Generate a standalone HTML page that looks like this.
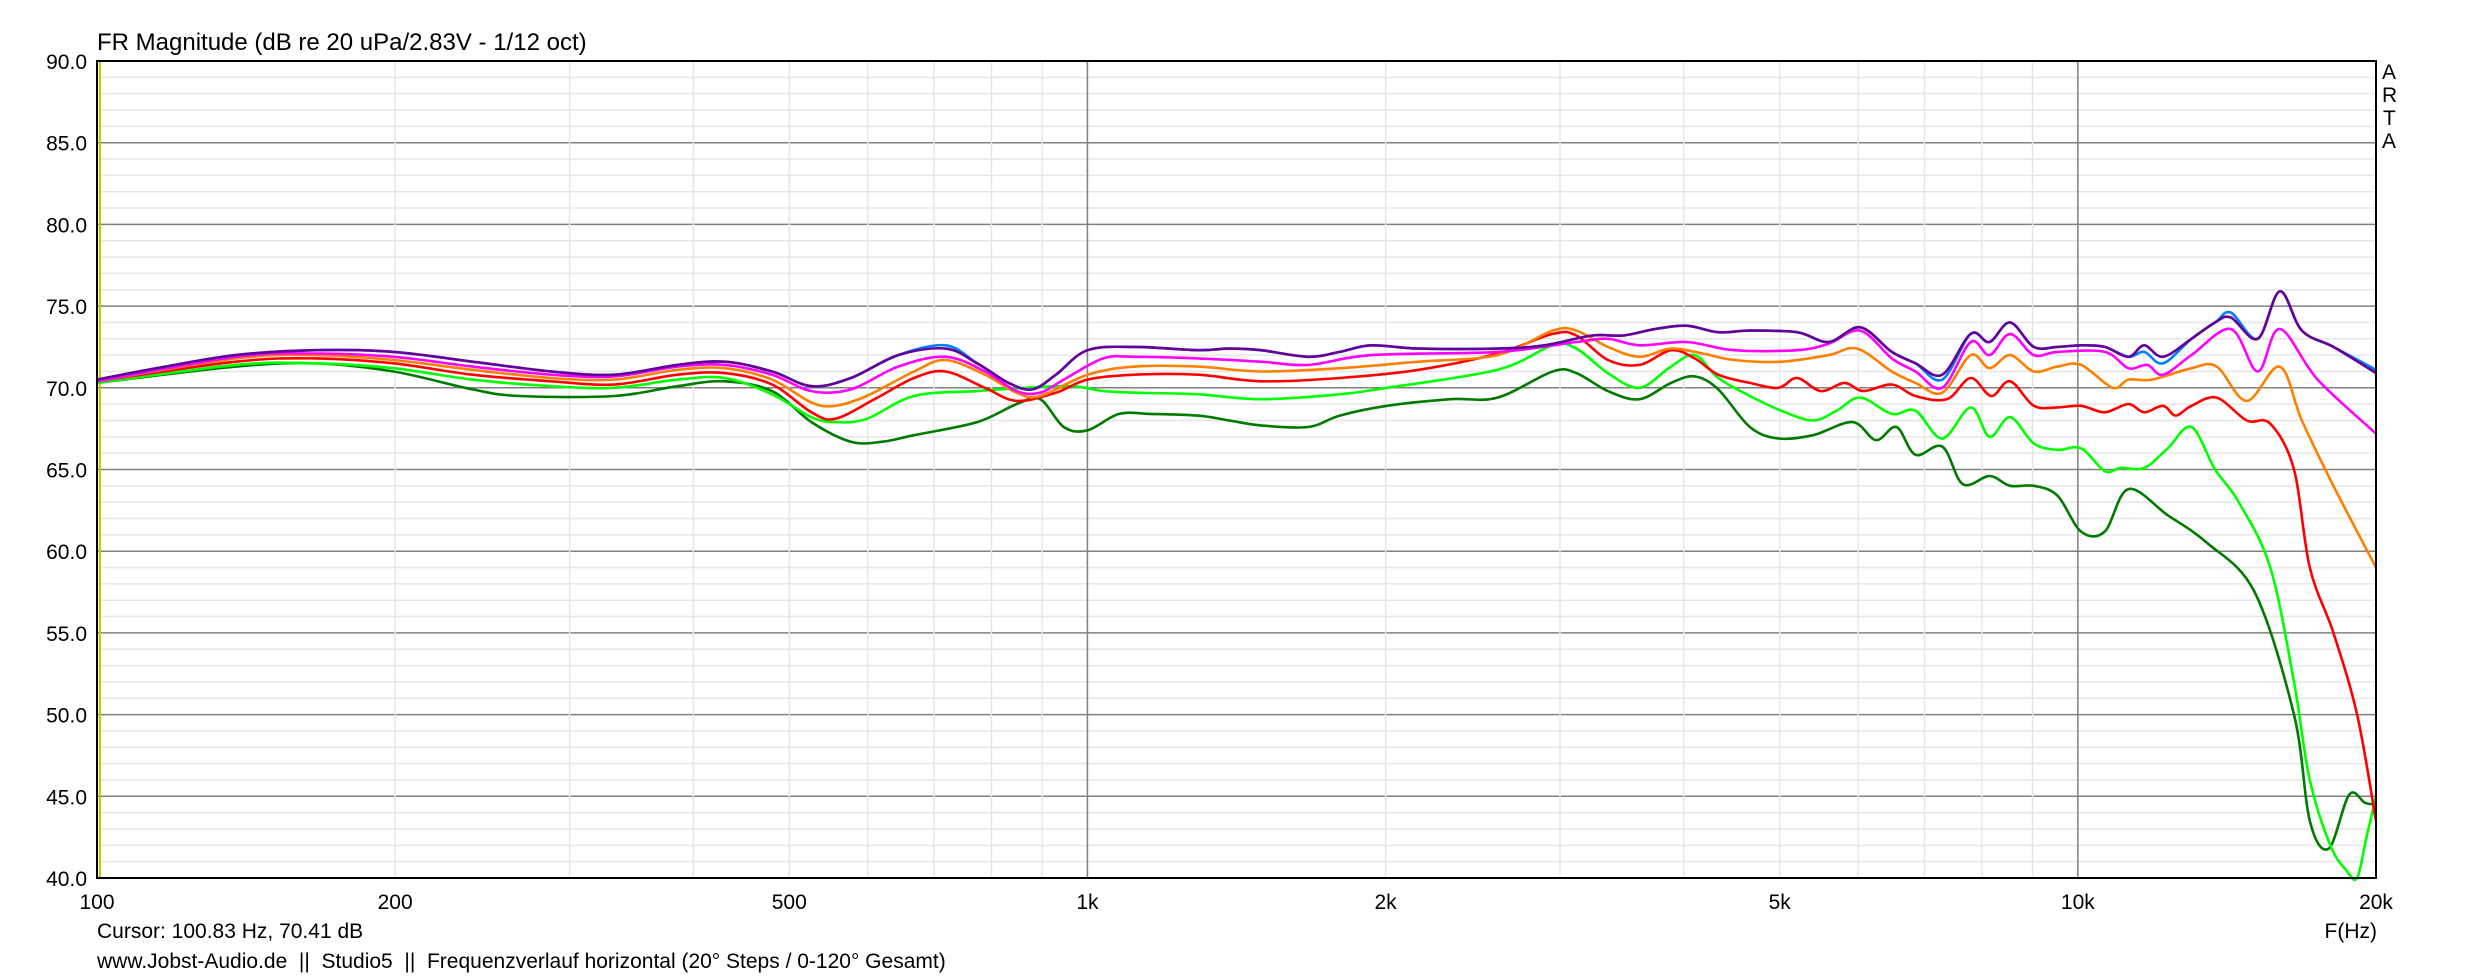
<!DOCTYPE html>
<html><head><meta charset="utf-8"><style>
html,body{margin:0;padding:0;background:#fff;}
svg{display:block;}
text{font-family:"Liberation Sans",Arial,sans-serif;fill:#000;white-space:pre;}
</style></head><body>
<svg id="s" width="2473" height="978" xmlns="http://www.w3.org/2000/svg" xml:space="preserve">
<rect width="2473" height="978" fill="#fff"/>
<g id="grid"></g>
<g id="curves" fill="none" stroke-width="2.6" stroke-linejoin="round"></g>
<rect x="97" y="61" width="2279" height="817" fill="none" stroke="#000" stroke-width="2"/>
<text x="97" y="50" font-size="24">FR Magnitude (dB re 20 uPa/2.83V - 1/12 oct)</text>
<g font-size="21"><text x="2382" y="79">A</text><text x="2382" y="102">R</text><text x="2383" y="125">T</text><text x="2382" y="148">A</text></g>
<g id="labels" font-size="21"></g>
<text x="97" y="938" font-size="21">Cursor: 100.83 Hz, 70.41 dB</text>
<text x="2377" y="938" font-size="21" text-anchor="end">F(Hz)</text>
<text x="97" y="968" font-size="21">www.Jobst-Audio.de  ||  Studio5  ||  Frequenzverlauf horizontal (20° Steps / 0-120° Gesamt)</text>
</svg>
<script>
var NS="http://www.w3.org/2000/svg";
var L=97,R=2376,T=61,B=878;
function fx(f){return L+(R-L)*Math.log10(f/100)/Math.log10(200);}
function fy(d){return T+(90-d)*(B-T)/50;}
function el(p,n,a,t){var e=document.createElementNS(NS,n);for(var k in a)e.setAttribute(k,a[k]);if(t!==undefined)e.textContent=t;p.appendChild(e);return e;}
var g=document.getElementById('grid'),lb=document.getElementById('labels');
for(var d=40;d<=90;d++){var y=fy(d);var maj=d%5==0;
 el(g,'line',{x1:L,x2:R,y1:y,y2:y,stroke:maj?'#808080':'#e6e6e6','stroke-width':1.5});
 if(maj)el(lb,'text',{x:87,y:y+8,'text-anchor':'end'},d.toFixed(1));}
var fs=[];for(var dec=100;dec<=10000;dec*=10)for(var m=1;m<10;m++)fs.push(dec*m);fs.push(20000);
fs.forEach(function(f){if(f<=100||f>20000)return;var x=fx(f);var maj=(f==1000||f==10000);
 el(g,'line',{x1:x,x2:x,y1:T,y2:B,stroke:maj?'#808080':'#e6e6e6','stroke-width':1.5});});
el(g,'line',{x1:100,x2:100,y1:T,y2:B,stroke:'#c8c800','stroke-width':2});
[[100,'100'],[200,'200'],[500,'500'],[1000,'1k'],[2000,'2k'],[5000,'5k'],[10000,'10k'],[20000,'20k']].forEach(function(a){
 el(lb,'text',{x:fx(a[0]),y:909,'text-anchor':'middle'},a[1]);});
function P(s){return s.trim().split(/\s*,\s*/).map(function(t){var q=t.split(':');return [+q[0],+q[1]];});}
var purple=P("62:70.5,100:71.2,150:72.0,200:72.3,250:72.2,300:71.6,350:71.0,390:70.8,430:71.4,460:71.6,490:71.0,515:70.1,540:70.6,570:72.0,600:72.4,620:71.5,640:70.3,655:69.9,670:70.8,690:72.3,720:72.5,760:72.3,780:72.4,800:72.3,830:71.9,850:72.2,870:72.6,900:72.4,950:72.4,980:72.6,1010:73.2,1030:73.2,1050:73.6,1070:73.8,1090:73.4,1110:73.5,1140:73.4,1160:72.8,1180:73.7,1200:72.2,1215:71.5,1232:70.8,1250:73.3,1262:72.8,1275:74.0,1290:72.5,1305:72.5,1320:72.6,1335:72.5,1350:71.9,1360:72.6,1372:71.9,1390:73.0,1405:74.0,1415:74.3,1432:73.0,1446:75.9,1460:73.5,1480:72.5,1507:70.9");
var blue=purple.map(function(p){var d=p[1];if(p[0]==600)d=72.6;if(p[0]==1232)d=70.5;if(p[0]==1415)d=74.6;if(p[0]==1360)d=72.2;if(p[0]==1372)d=71.5;if(p[0]==1507)d=71.1;return [p[0],d];});
var magenta=P("62:70.4,150:71.9,200:72.1,250:71.9,300:71.3,350:70.8,390:70.7,430:71.3,460:71.4,490:70.8,515:69.8,540:69.9,570:71.3,600:71.9,625:71.0,645:69.8,660:69.7,675:70.5,700:71.8,720:71.9,760:71.8,800:71.6,830:71.4,870:72.0,950:72.2,1000:72.8,1020:73.0,1040:72.6,1070:72.8,1100:72.3,1140:72.3,1160:72.7,1180:73.5,1200:71.8,1215:71.0,1232:70.0,1250:72.8,1262:72.0,1275:73.3,1290:72.0,1305:72.2,1335:72.2,1350:71.2,1362:71.4,1372:70.8,1390:72.0,1415:73.6,1432:71.0,1446:73.6,1470:70.5,1507:67.2");
var orange=P("62:70.4,150:71.8,200:72.0,250:71.7,300:71.1,350:70.6,390:70.5,430:71.1,460:71.2,490:70.5,515:69.1,530:68.9,550:69.5,580:71.0,600:71.7,625:70.8,645:69.7,660:69.5,690:70.8,720:71.3,760:71.3,800:71.0,850:71.2,900:71.6,950:72.0,985:73.5,1000:73.5,1020:72.5,1040:71.9,1060:72.4,1080:72.1,1100:71.7,1130:71.6,1160:72.0,1178:72.4,1200:71.0,1215:70.3,1232:69.7,1250:72.0,1262:71.2,1275:72.0,1290:71.0,1305:71.3,1320:71.4,1340:70.0,1350:70.5,1365:70.5,1390:71.2,1406:71.3,1425:69.2,1446:71.3,1460:68,1480:64,1507:59.0");
var red=P("62:70.4,150:71.6,200:71.8,250:71.5,300:70.8,350:70.4,390:70.2,430:70.8,460:70.9,490:70.2,515:68.5,530:68.1,555:69.3,580:70.6,600:71.0,625:70.0,645:69.2,670:69.7,690:70.5,720:70.8,760:70.8,800:70.4,850:70.6,900:71.1,950:72.1,985:73.3,1000:73.2,1020:71.7,1040:71.4,1060:72.3,1075:71.8,1090:70.8,1110:70.3,1128:70.0,1140:70.6,1155:69.8,1170:70.3,1182:69.8,1200:70.2,1215:69.5,1235:69.3,1250:70.6,1263:69.5,1275:70.4,1290:68.9,1305:68.8,1320:68.9,1335:68.5,1350:69.0,1360:68.5,1372:68.9,1380:68.3,1390:68.9,1406:69.4,1425:68.0,1440:67.8,1455:65,1465:59,1480:55,1495:50,1507:43.5");
var lime=P("62:70.3,150:71.4,200:71.5,250:71.2,300:70.5,350:70.1,390:70.0,430:70.5,460:70.6,490:69.6,515:68.2,530:67.9,550:68.1,580:69.5,620:69.8,650:70.0,680:70.1,700:69.8,720:69.7,760:69.6,800:69.3,850:69.6,880:70.0,950:71.1,985:72.6,1000:72.4,1020:70.9,1040:70.0,1060:71.3,1075:72.0,1090:70.6,1110:69.5,1130:68.6,1150:68.0,1165:68.6,1180:69.4,1200:68.4,1215:68.6,1232:66.9,1250:68.8,1262:67.0,1275:68.2,1290:66.6,1305:66.2,1320:66.3,1335:64.9,1345:65.1,1360:65.1,1375:66.3,1390:67.6,1405:65,1420:63,1440:59,1455:52,1465:46,1478:42,1488:40.5,1495:40,1501:42.5,1507:45");
var dgreen=P("62:70.3,150:71.3,200:71.5,250:71.0,300:69.9,330:69.5,390:69.5,430:70.1,460:70.4,490:69.8,515:67.9,540:66.7,560:66.7,580:67.1,620:67.9,645:69.0,660:69.3,675:67.6,690:67.4,710:68.4,730:68.4,760:68.3,780:68.0,800:67.7,830:67.6,850:68.3,880:68.9,920:69.3,950:69.4,985:71.0,1000:70.9,1020:69.8,1040:69.3,1060:70.3,1075:70.7,1090:69.9,1110:67.6,1128:66.9,1150:67.1,1175:67.9,1190:66.8,1203:67.6,1215:65.9,1232:66.4,1245:64.1,1262:64.6,1275:64.0,1290:64.0,1305:63.4,1320:61.2,1335:61.2,1350:63.8,1375:62.2,1400:60.5,1430:57.5,1455:50,1465:43.5,1477:41.8,1490:45.1,1500:44.6,1507:44.5");
function path(pts){
 var p=pts.map(function(a){return [L+(a[0]-62)*(R-L)/1445, Math.min(fy(a[1]),B)];});
 var d='M'+p[0][0].toFixed(1)+','+p[0][1].toFixed(1);
 for(var i=0;i<p.length-1;i++){var p0=p[Math.max(i-1,0)],p1=p[i],p2=p[i+1],p3=p[Math.min(i+2,p.length-1)];
  var c1x=p1[0]+(p2[0]-p0[0])/6,c1y=p1[1]+(p2[1]-p0[1])/6,c2x=p2[0]-(p3[0]-p1[0])/6,c2y=p2[1]-(p3[1]-p1[1])/6;
  d+=' C'+c1x.toFixed(1)+','+c1y.toFixed(1)+' '+c2x.toFixed(1)+','+c2y.toFixed(1)+' '+p2[0].toFixed(1)+','+p2[1].toFixed(1);}
 return d;}
var cg=document.getElementById('curves');
[[dgreen,'#007a00'],[lime,'#00ff00'],[red,'#ff0000'],[orange,'#ff8000'],[magenta,'#ff00ff'],[blue,'#0080ff'],[purple,'#660099']].forEach(function(c){
 el(cg,'path',{d:path(c[0]),stroke:c[1]});});
</script>
</body></html>
